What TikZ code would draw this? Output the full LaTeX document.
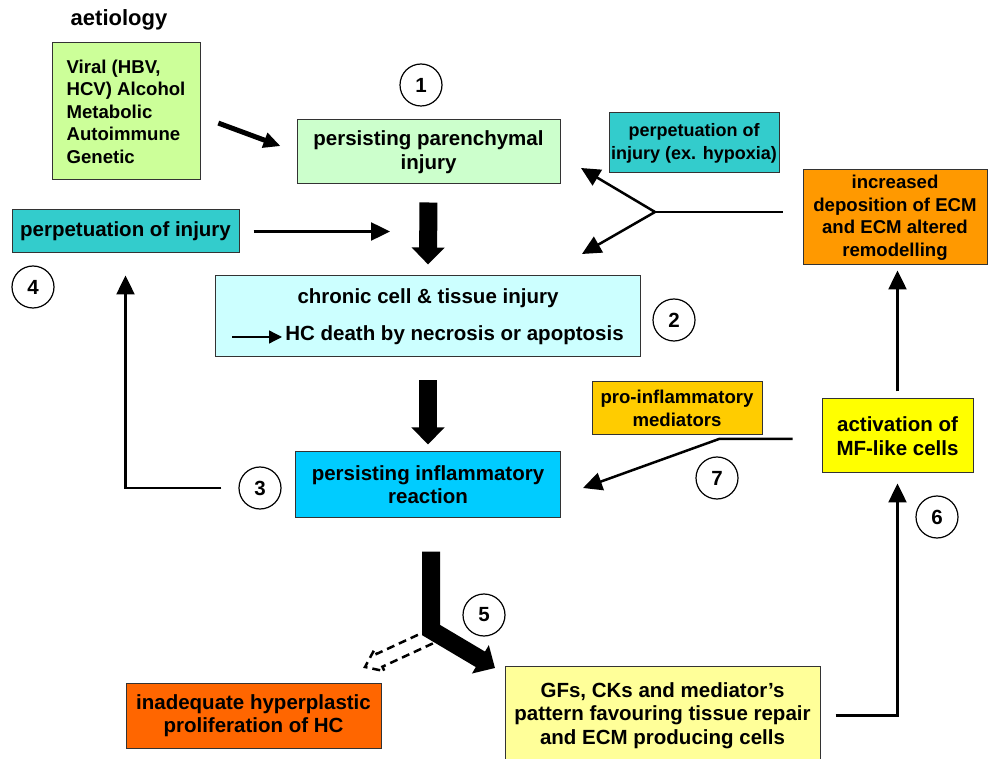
\documentclass[tikz,border=0pt]{standalone}
\usepackage{fontspec}
\setmainfont{Liberation Sans}
\usetikzlibrary{arrows.meta,calc}

\definecolor{aetiogreen}{HTML}{CCFF99}
\definecolor{parengreen}{HTML}{CCFFCC}
\definecolor{perpteal}{HTML}{33CCCC}
\definecolor{chroniccyan}{HTML}{CCFFFF}
\definecolor{inflamblue}{HTML}{00CCFF}
\definecolor{ecmorange}{HTML}{FF9900}
\definecolor{mfyellow}{HTML}{FFFF00}
\definecolor{proamber}{HTML}{FFCC00}
\definecolor{hcred}{HTML}{FF6600}
\definecolor{gfspale}{HTML}{FFFF99}
\definecolor{boxedge}{HTML}{333333}

\begin{document}
\begin{tikzpicture}[x=1pt,y=1pt,yscale=-1,xscale=1,
  txt/.style={font=\fontsize{20.5}{23.5}\selectfont\bfseries},
  box/.style={txt, draw=boxedge, line width=1pt, align=center, inner sep=0pt},
  smallbox/.style={box, font=\fontsize{18.6}{22.5}\selectfont\bfseries},
  num/.style={txt, draw, circle, line width=1.2pt, minimum size=42pt, inner sep=0pt},
  thinline/.style={line width=2.5pt},
  thinarrow/.style={line width=2.5pt, -{Triangle[width=18pt,length=19pt]}},
  fatarrow/.style={line width=5pt, -{Triangle[width=15pt,length=17pt]}},
  bigarrow/.style={line width=18pt, -{Triangle[width=32pt,length=17pt]}}]
\path[use as bounding box] (0,0) rectangle (989,759);

%Shape: Rectangle [aetiology]
\node[txt] (aetiolbl) at (119,20) {\fontsize{22}{24}\selectfont aetiology};
\node[smallbox, fill=aetiogreen, minimum width=148pt, minimum height=137pt, align=left] (aetio) at (126,111.5)
  {Viral (HBV,\\HCV) Alcohol\\Metabolic\\Autoimmune\\Genetic};
%Shape: Rectangle [injury chain]
\node[box, fill=parengreen, minimum width=263pt, minimum height=64pt] (paren) at (428.5,152) {persisting parenchymal\\injury};
\node[box, fill=perpteal, minimum width=227pt, minimum height=43pt] (perp) at (125.5,231.5) {perpetuation of injury};
\node[box, fill=chroniccyan, minimum width=425pt, minimum height=81pt] (chronic) at (428,316.5)
  {chronic cell \& tissue injury\\[13pt]\hspace*{53pt}HC death by necrosis or apoptosis};
\node[box, fill=inflamblue, minimum width=265pt, minimum height=65pt] (inflam) at (428,484.5) {persisting inflammatory\\reaction};
%Shape: Rectangle [right side]
\node[smallbox, fill=perpteal, minimum width=170pt, minimum height=60pt, font=\fontsize{18}{23}\selectfont\bfseries] (hypox) at (694,143) {perpetuation of\\injury (ex. hypoxia)};
\node[smallbox, fill=ecmorange, minimum width=184pt, minimum height=95pt] (ecm) at (895,217.5)
  {increased\\deposition of ECM\\and ECM altered\\remodelling};
\node[box, fill=mfyellow, minimum width=151pt, minimum height=74pt] (mf) at (897.5,436) {activation of\\MF-like cells};
\node[smallbox, fill=proamber, minimum width=170pt, minimum height=53pt] (pro) at (677,408.5) {pro-inflammatory\\mediators};
%Shape: Rectangle [bottom]
\node[box, fill=hcred, minimum width=255pt, minimum height=65pt] (hcprolif) at (253.5,715.5) {inadequate hyperplastic\\proliferation of HC};
\node[box, fill=gfspale, minimum width=315pt, minimum height=99pt] (gfs) at (662.5,715.5)
  {\fontsize{20.5}{24.5}\selectfont GFs, CKs and mediator’s\\pattern favouring tissue repair\\and ECM producing cells};

% Text Node [step numbers]
\node[num] (one) at (421,85) {1};
\node[num] (two) at (674,320) {2};
\node[num] (three) at (260,488) {3};
\node[num] (four) at (33,287) {4};
\node[num] (five) at (484,615) {5};
\node[num] (six) at (937,517) {6};
\node[num] (seven) at (717,478) {7};

% free ends
\coordinate (perpEnd) at (390,231.5);
\coordinate (fork) at (655,212);
\coordinate (forkUp) at (581,168);
\coordinate (forkDown) at (582,254);
\coordinate (proKnee) at (719,439);
\coordinate (proTip) at (583,488);
\coordinate (Lknee) at (431,630);
\coordinate (Ltip) at (495,668);
\coordinate (hcA) at ([xshift=17pt,yshift=20.5pt]chronic.west);
\coordinate (hcB) at ([xshift=67pt,yshift=20.5pt]chronic.west);

%Straight Lines
\draw[fatarrow, shorten <=19pt, shorten >=17pt] ([yshift=5pt]aetio.east) -- (paren.west);
\draw[bigarrow, shorten <=18pt, shorten >=11pt] (paren.south) -- (chronic.north);
\draw[bigarrow, shorten <=23pt, shorten >=7pt] (chronic.south) -- (inflam.north);
\draw[thinarrow, shorten <=14pt] (perp.east) -- (perpEnd);
\draw[line width=1.3pt, -{Triangle[width=13pt,length=13pt]}] (hcA) -- (hcB);
\draw[thinarrow, shorten <=17pt, shorten >=22pt] (three.west) -| (perp.south);
\draw[thinline] ([shift={(-20pt,-5.5pt)}]ecm.west) -- (fork);
\draw[thinarrow] (fork) -- (forkUp);
\draw[thinarrow] (fork) -- (forkDown);
\draw[thinarrow, shorten <=7pt, shorten >=5pt] (mf.north) -- (mf.north |- ecm.south);
\draw[thinarrow, shorten <=15pt, shorten >=10pt] (gfs.east) -| (mf.south);
\draw[thinarrow, shorten <=29pt] ([yshift=3pt]mf.west) -- (proKnee) -- (proTip);

%Shape: dashed hollow arrow
\draw[line width=2.5pt, dash pattern=on 8pt off 5pt, line join=miter]
  (432.9,643.4) -- (382.4,666.7) -- (384.5,671.2) -- (365,667) -- (374.5,649.4) -- (376.6,653.9) -- (427.1,630.6);
%Shape: thick bent arrow
\draw[bigarrow, line join=miter] ([xshift=3pt,yshift=34pt]inflam.south) -- (Lknee) -- (Ltip);

\end{tikzpicture}
\end{document}
